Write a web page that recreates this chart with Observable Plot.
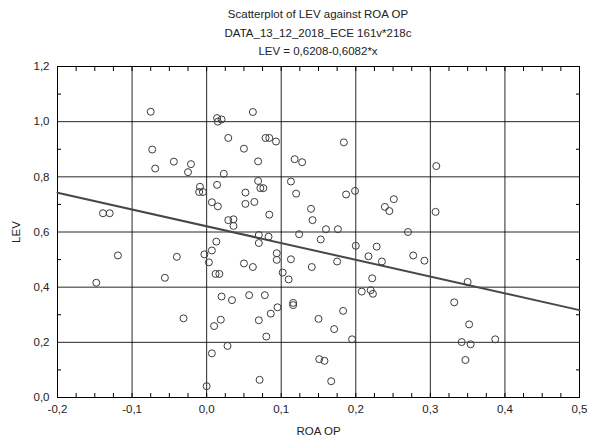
<!DOCTYPE html>
<html>
<head>
<meta charset="utf-8">
<script src="https://cdn.jsdelivr.net/npm/d3@7"></script>
<script src="https://cdn.jsdelivr.net/npm/@observablehq/plot@0.6"></script>
<style>
  html, body { margin: 0; padding: 0; background: #fff; }
  body { width: 590px; height: 438px; overflow: hidden; font-family: "Liberation Sans", Arial, sans-serif; }
  #title { box-sizing: border-box; width: 590px; height: 56px; padding: 5px 11px 0 57px; text-align: center; font-size: 11.5px; line-height: 18.5px; color: #222; }
</style>
</head>
<body>
<div id="title"></div>
<div id="chart"></div>
<script>
const titleLines = ["Scatterplot of LEV against ROA OP", "DATA_13_12_2018_ECE 161v*218c", "LEV = 0,6208-0,6082*x"];
const xLabel = "ROA OP";
const yLabel = "LEV";
const intercept = 0.6208;
const slope = -0.6082;
const xTicks = [-0.2, -0.1, 0.0, 0.1, 0.2, 0.3, 0.4, 0.5];
const yTicks = [0.0, 0.2, 0.4, 0.6, 0.8, 1.0, 1.2];
const xMinorTicks = d3.range(-0.2, 0.5001, 0.025);
const yMinorTicks = d3.range(0.1, 1.2, 0.2);

const roa = [
  -0.075, 0.014, 0.020, 0.015, 0.029, -0.073, -0.044, -0.021, -0.069, -0.025,
  0.023, -0.009, -0.010, -0.005, 0.014, 0.007, 0.015, -0.139, -0.130, 0.029,
  0.036, 0.036, 0.062, 0.079, 0.084, 0.093, 0.050, 0.069, 0.184, 0.118,
  0.128, 0.069, 0.072, 0.076, 0.052, 0.052, 0.064, 0.084, 0.113, 0.120,
  0.187, 0.199, 0.140, 0.142, 0.251, 0.239, 0.245, 0.308, 0.307, 0.270,
  -0.119, -0.148, -0.040, -0.056, -0.003, 0.007, 0.013, 0.003, 0.012, 0.017,
  0.020, 0.034, -0.031, 0.019, 0.010, 0.028, 0.007, 0.000, 0.160, 0.176,
  0.070, 0.083, 0.070, 0.124, 0.153, 0.200, 0.228, 0.217, 0.235, 0.094,
  0.094, 0.113, 0.175, 0.050, 0.062, 0.141, 0.102, 0.110, 0.222, 0.208,
  0.220, 0.223, 0.057, 0.078, 0.116, 0.116, 0.095, 0.086, 0.070, 0.183,
  0.150, 0.171, 0.080, 0.195, 0.151, 0.158, 0.071, 0.167, 0.277, 0.292,
  0.350, 0.332, 0.352, 0.342, 0.354, 0.387, 0.347
];
const lev = [
  1.036, 1.013, 1.008, 1.000, 0.941, 0.899, 0.855, 0.846, 0.830, 0.817,
  0.811, 0.764, 0.745, 0.745, 0.771, 0.708, 0.693, 0.668, 0.668, 0.643,
  0.646, 0.622, 1.035, 0.941, 0.941, 0.928, 0.902, 0.856, 0.925, 0.864,
  0.853, 0.785, 0.759, 0.759, 0.743, 0.702, 0.709, 0.663, 0.783, 0.739,
  0.736, 0.749, 0.684, 0.643, 0.719, 0.691, 0.676, 0.839, 0.673, 0.600,
  0.515, 0.416, 0.510, 0.434, 0.519, 0.533, 0.565, 0.490, 0.448, 0.448,
  0.366, 0.353, 0.287, 0.282, 0.259, 0.187, 0.160, 0.041, 0.610, 0.610,
  0.589, 0.583, 0.560, 0.592, 0.573, 0.550, 0.547, 0.512, 0.493, 0.523,
  0.499, 0.501, 0.493, 0.486, 0.473, 0.473, 0.453, 0.428, 0.432, 0.384,
  0.389, 0.376, 0.371, 0.371, 0.343, 0.335, 0.327, 0.304, 0.280, 0.314,
  0.285, 0.248, 0.221, 0.211, 0.139, 0.133, 0.064, 0.059, 0.515, 0.496,
  0.419, 0.345, 0.265, 0.201, 0.193, 0.211, 0.136
];

document.getElementById("title").innerHTML = titleLines.map(t => `<div>${t}</div>`).join("");

const points = roa.map((x, i) => ({x, y: lev[i]}));
const xDomain = [xTicks[0], xTicks[xTicks.length - 1]];
const fitLine = xDomain.map(x => ({x, y: intercept + slope * x}));
const fmt = d => d3.format(".1f")(d).replace(".", ",").replace("−", "-");

const chart = Plot.plot({
  width: 590,
  height: 382,
  marginTop: 10,
  marginBottom: 41,
  marginLeft: 57,
  marginRight: 11,
  style: {fontFamily: "'Liberation Sans', Arial, sans-serif", fontSize: "11.5px", color: "#222", background: "#fff"},
  x: {domain: xDomain},
  y: {domain: [yTicks[0], yTicks[yTicks.length - 1]]},
  marks: [
    Plot.gridX(xTicks, {stroke: "#000", strokeOpacity: 0.85, strokeWidth: 1}),
    Plot.gridY(yTicks, {stroke: "#000", strokeOpacity: 0.85, strokeWidth: 1}),
    Plot.axisX(xMinorTicks, {anchor: "bottom", tickSize: -4, text: null, stroke: "#000", label: null}),
    Plot.axisX(xMinorTicks, {anchor: "top", tickSize: -4, text: null, stroke: "#000", label: null}),
    Plot.axisY(yMinorTicks, {anchor: "left", tickSize: -4, text: null, stroke: "#000", label: null}),
    Plot.axisY(yMinorTicks, {anchor: "right", tickSize: -4, text: null, stroke: "#000", label: null}),
    Plot.axisX(xTicks, {anchor: "bottom", tickSize: 0, tickPadding: 7, tickFormat: fmt, label: xLabel, labelAnchor: "center", labelArrow: "none", labelOffset: 37, fill: "#222"}),
    Plot.axisY(yTicks, {anchor: "left", tickSize: 0, tickPadding: 8, tickFormat: fmt, label: yLabel, labelAnchor: "center", labelArrow: "none", labelOffset: 46, fill: "#222"}),
    Plot.frame({stroke: "#000", strokeWidth: 1}),
    Plot.line(fitLine, {x: "x", y: "y", stroke: "#474747", strokeWidth: 2}),
    Plot.dot(points, {x: "x", y: "y", r: 3.5, stroke: "#3c3c3c", strokeWidth: 1, fill: "none"})
  ]
});
document.getElementById("chart").appendChild(chart);
</script>
</body>
</html>
